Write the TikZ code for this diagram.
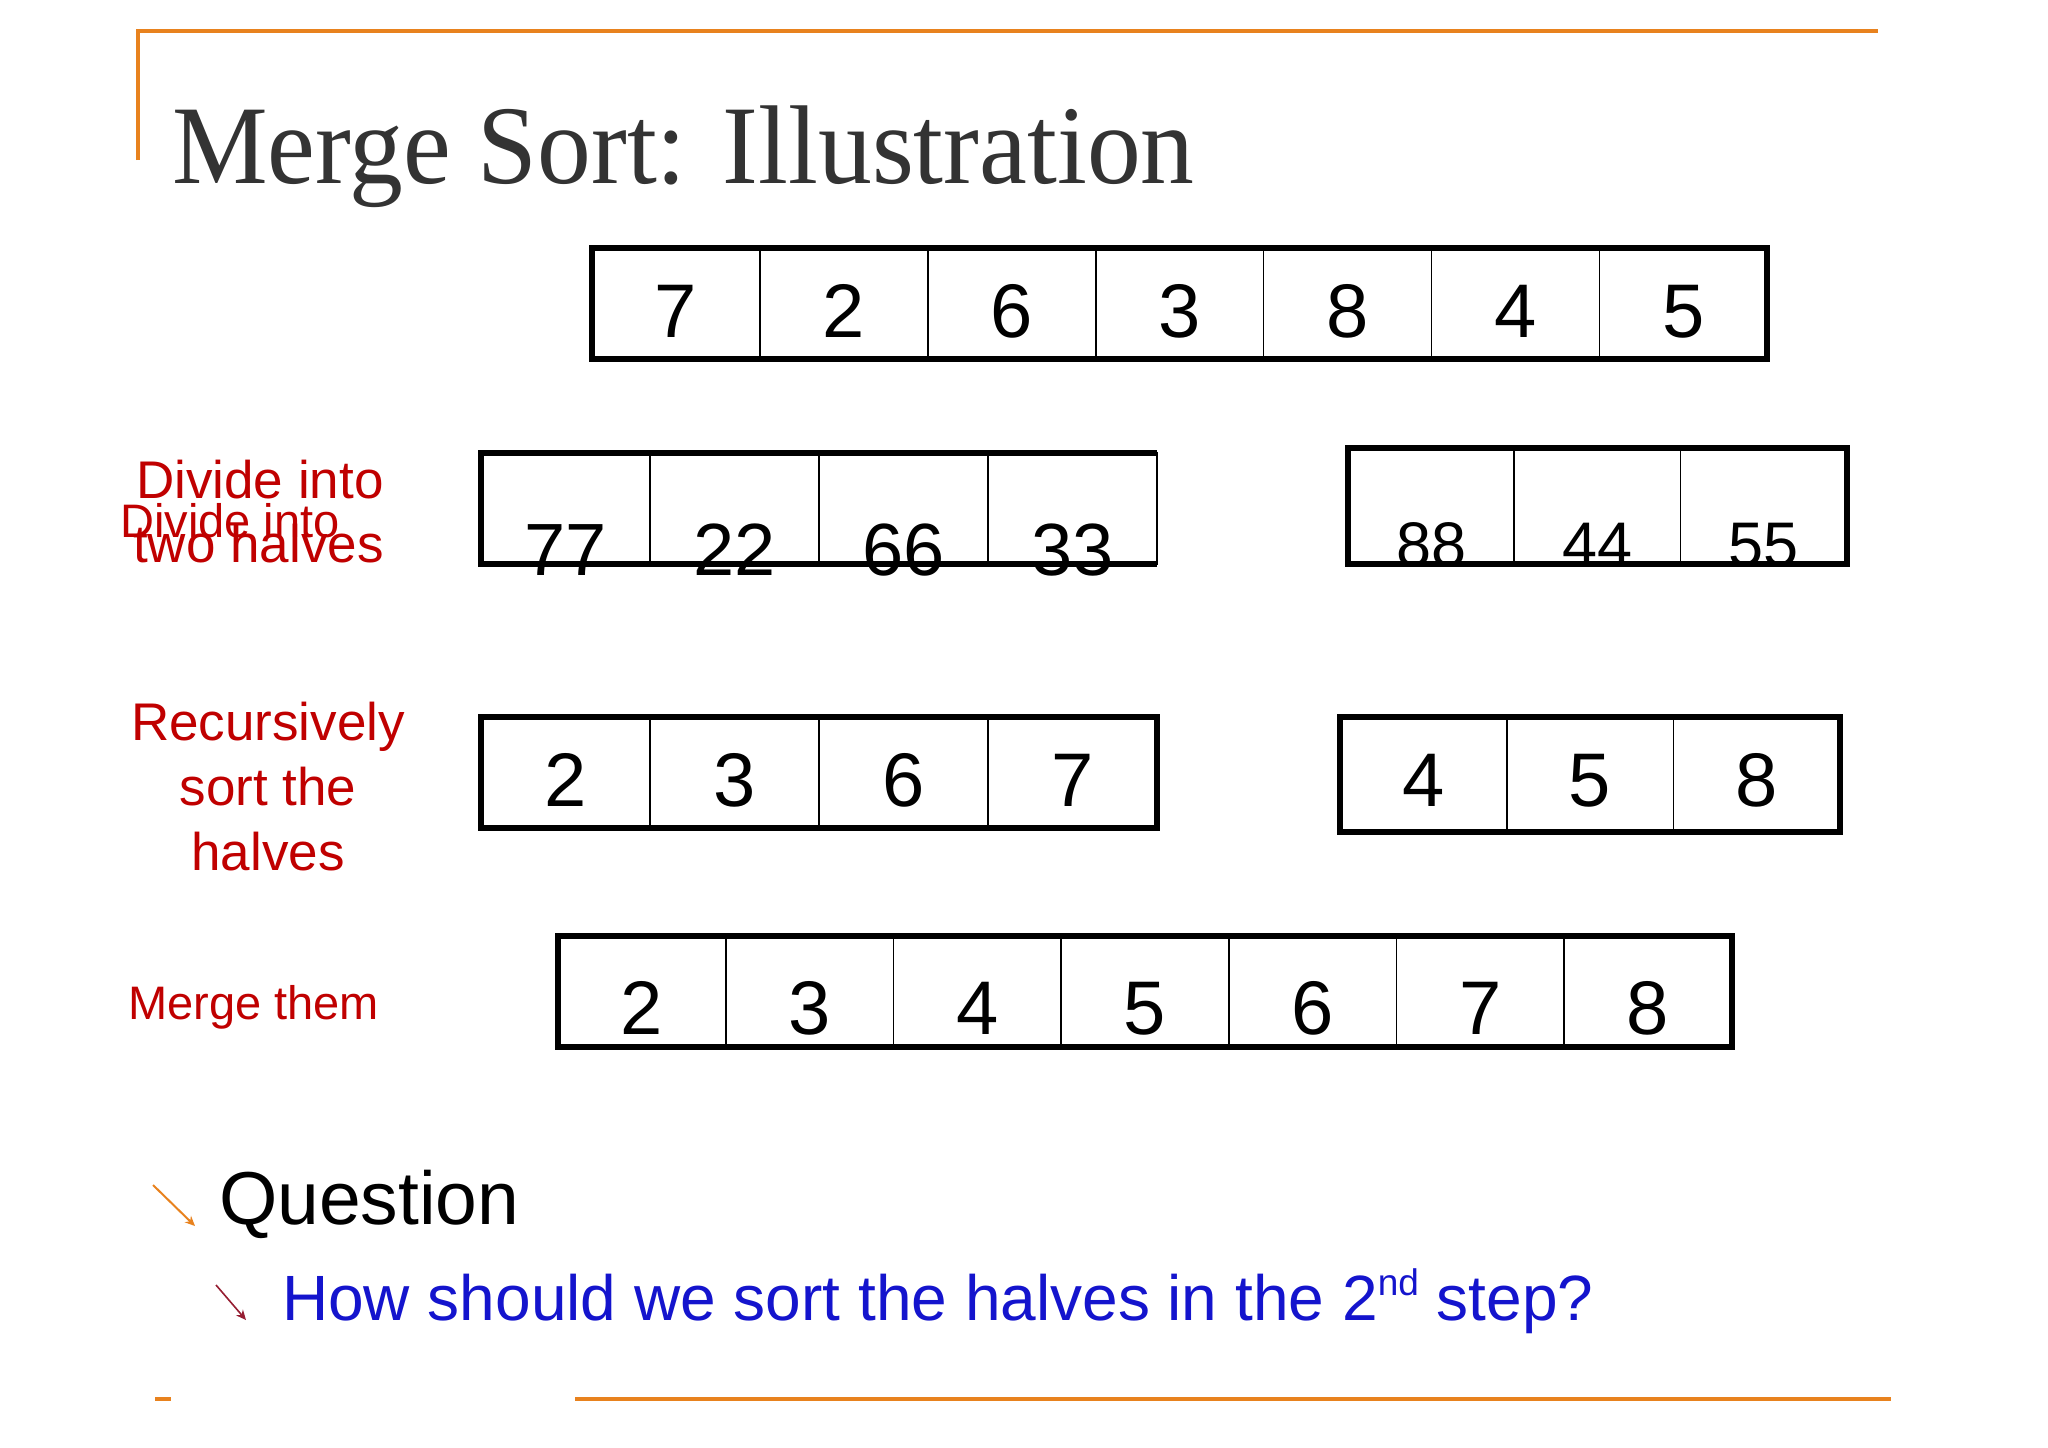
\documentclass[tikz,border=0pt]{standalone}
\usepackage{fontspec}
\setmainfont{Liberation Sans}
\newfontfamily\titlefont{Liberation Serif}
\usetikzlibrary{arrows.meta}
\definecolor{slideorange}{RGB}{232,130,30}
\definecolor{labelred}{RGB}{192,0,0}
\definecolor{qblue}{RGB}{20,20,205}
\definecolor{bulletred}{RGB}{150,30,50}
\definecolor{titlegray}{RGB}{51,51,51}
\tikzset{
  cellbox/.style={draw=black, line width=1.7pt, inner sep=0pt, outer sep=0pt},
  digit/.style={anchor=base, inner sep=0pt, text=black},
  outerbox/.style={draw=black, line width=6pt},
  redlabel/.style={text=labelred, inner sep=0pt},
  orangeline/.style={draw=slideorange, line width=4pt},
  bullet/.style={line width=2pt, -{Stealth[length=10pt,width=9pt]}}
}
\newcommand{\cellrow}[8]{%
  \foreach \v [count=\i] in {#6} {
    \node[cellbox, minimum width=#4, minimum height=#5] (#1-\i) at ({#2+(\i-0.5)*#4}, {#3+#5/2}) {};
    \node[digit, font=\fontsize{#8}{#8}\selectfont] (#1-d\i) at ({#2+(\i-0.5)*#4}, #7) {\v};
  }%
}
\begin{document}
\begin{tikzpicture}[x=1pt,y=-1pt]
\useasboundingbox[fill=white] (0,0) rectangle (2048,1448);

% slide frame lines
\coordinate (tl) at (138,160);
\coordinate (tc) at (138,31);
\coordinate (tr) at (1878,31);
\draw[orangeline] (tl) -- (tc) -- (tr);
\coordinate (bl1) at (155,1399);
\coordinate (bl2) at (171,1399);
\draw[orangeline] (bl1) -- (bl2);
\coordinate (br1) at (575,1399);
\coordinate (br2) at (1891,1399);
\draw[orangeline] (br1) -- (br2);

% title
\node[anchor=base west, inner sep=0pt, text=titlegray, xscale=0.96,
  font=\titlefont\fontsize{112}{112}\selectfont] (title) at (172,183) {Merge Sort: Illustration};

% row 1
\cellrow{r1}{592}{248}{167.9}{111}{7,2,6,3,8,4,5}{337}{76}
\draw[outerbox] (r1-1.north west) rectangle (r1-7.south east);

% row 2
\cellrow{r2a}{481}{453}{169}{111}{77,22,66,33}{575}{74}
\draw[outerbox] (r2a-4.north east) -- (r2a-1.north west) -- (r2a-1.south west) -- (r2a-4.south east);
\cellrow{r2b}{1348}{448}{166.3}{116}{88,44,55}{566}{63}
\draw[outerbox] (r2b-1.north west) rectangle (r2b-3.south east);

% row 3
\cellrow{r3a}{481}{717}{169}{111}{2,3,6,7}{806}{76}
\draw[outerbox] (r3a-1.north west) rectangle (r3a-4.south east);
\cellrow{r3b}{1340}{717}{166.7}{115}{4,5,8}{806}{76}
\draw[outerbox] (r3b-1.north west) rectangle (r3b-3.south east);

% row 4
\cellrow{r4}{558}{936}{167.7}{111}{2,3,4,5,6,7,8}{1034}{76}
\draw[outerbox] (r4-1.north west) rectangle (r4-7.south east);

% labels
\node[redlabel, anchor=base west, font=\fontsize{53}{53}\selectfont] (lab1) at (136,498) {Divide into};
\node[redlabel, anchor=base west, font=\fontsize{47}{47}\selectfont] (lab1b) at (120,537) {Divide into};
\node[redlabel, anchor=base west, font=\fontsize{53}{53}\selectfont] (lab2) at (133,562) {two halves};
\node[redlabel, anchor=base, font=\fontsize{53}{53}\selectfont] (lab3) at (268,740) {Recursively};
\node[redlabel, anchor=base, font=\fontsize{53}{53}\selectfont] (lab4) at (268,805) {sort the};
\node[redlabel, anchor=base, font=\fontsize{53}{53}\selectfont] (lab5) at (268,870) {halves};
\node[redlabel, anchor=base west, font=\fontsize{47}{47}\selectfont] (lab6) at (128,1019) {Merge them};

% question
\coordinate (b1s) at (153,1185);
\coordinate (b1e) at (195,1226);
\draw[bullet, slideorange] (b1s) -- (b1e);
\node[anchor=base west, inner sep=0pt, font=\fontsize{75}{75}\selectfont] (q) at (219,1224) {Question};
\coordinate (b2s) at (216,1285);
\coordinate (b2e) at (246,1320);
\draw[bullet, bulletred, line width=1.6pt] (b2s) -- (b2e);
\node[anchor=base west, inner sep=0pt, text=qblue, font=\fontsize{64}{64}\selectfont] (sub) at (282,1320)
  {How should we sort the halves in the 2\raisebox{0.38em}{\fontsize{37}{37}\selectfont nd} step?};
\end{tikzpicture}
\end{document}
